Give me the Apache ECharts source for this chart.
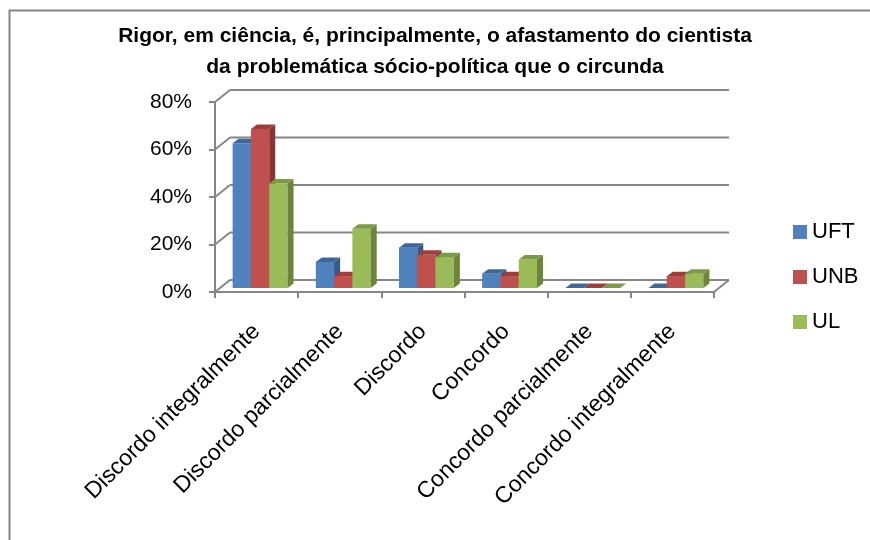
<!DOCTYPE html>
<html>
<head>
<meta charset="utf-8">
<script src="https://cdn.jsdelivr.net/npm/echarts@6/dist/echarts.min.js"></script>
<style>
html, body { margin: 0; padding: 0; background: #fff; }
#chart { width: 870px; height: 540px; }
</style>
</head>
<body>
<div id="chart"></div>
<script>
// data
const categories = ['Discordo integralmente', 'Discordo parcialmente', 'Discordo', 'Concordo', 'Concordo parcialmente', 'Concordo integralmente'];
const seriesNames = ['UFT', 'UNB', 'UL'];
const uft = [61, 11, 17, 6, 0, 0];
const unb = [67, 5, 14, 5, 0, 5];
const ul = [44, 25, 13, 12, 0, 6];
const yTicks = [0, 20, 40, 60, 80];

const palette = [
  { front: '#4F81BD', top: '#3F6898', side: '#365A86' },
  { front: '#C0504D', top: '#9C3E3C', side: '#8A3533' },
  { front: '#9BBB59', top: '#7D9A45', side: '#6C853B' }
];
const gray = '#868686';
// fake 3d depth of the walls and of the bars
const WALL_DX = 15, WALL_DY = -12;
const BAR_SHIFT_X = 3.5, BAR_SHIFT_Y = -4;
const BAR_DX = 6, BAR_DY = -4.5;

const chart = echarts.init(document.getElementById('chart'));

const wallSeries = {
  type: 'custom',
  silent: true,
  clip: false,
  z: 1,
  data: yTicks.map(v => [0, v]),
  renderItem: (params, api) => {
    const cs = params.coordSys;
    const y = api.coord([0, api.value(1)])[1];
    const x0 = cs.x, x1 = cs.x + cs.width;
    const style = { stroke: gray, lineWidth: 2 };
    const children = [
      { type: 'line', shape: { x1: x0, y1: y, x2: x0 + WALL_DX, y2: y + WALL_DY }, style },
      { type: 'line', shape: { x1: x0 + WALL_DX, y1: y + WALL_DY, x2: x1 + WALL_DX, y2: y + WALL_DY }, style }
    ];
    if (api.value(1) === 0) {
      children.push({ type: 'line', shape: { x1: x1, y1: y, x2: x1 + WALL_DX, y2: y + WALL_DY }, style });
    }
    return { type: 'group', children };
  }
};

const barSeries = [uft, unb, ul].map((vals, i) => ({
  name: seriesNames[i],
  type: 'custom',
  clip: false,
  z: 2,
  itemStyle: { color: palette[i].front },
  data: vals.map((v, ci) => [ci, v]),
  renderItem: (params, api) => {
    const ci = api.value(0), v = api.value(1);
    const base = api.coord([ci, 0]);
    const top = api.coord([ci, v]);
    const band = api.size([1, 0])[0];
    const bw = band * 0.22;
    const x = base[0] - 1.5 * bw + i * bw + BAR_SHIFT_X;
    const yb = base[1] + BAR_SHIFT_Y;
    const yt = top[1] + BAR_SHIFT_Y;
    const c = palette[i];
    const children = [];
    if (yb - yt > 0.5) {
      children.push({ type: 'rect', shape: { x: x, y: yt, width: bw, height: yb - yt }, style: { fill: c.front } });
      children.push({ type: 'polygon', shape: { points: [[x + bw, yt], [x + bw + BAR_DX, yt + BAR_DY], [x + bw + BAR_DX, yb + BAR_DY], [x + bw, yb]] }, style: { fill: c.side } });
    }
    children.push({ type: 'polygon', shape: { points: [[x, yt], [x + bw, yt], [x + bw + BAR_DX, yt + BAR_DY], [x + BAR_DX, yt + BAR_DY]] }, style: { fill: c.top } });
    return { type: 'group', children };
  }
}));

const option = {
  animation: false,
  textStyle: { fontFamily: "'Liberation Sans', Arial, sans-serif" },
  title: {
    text: 'Rigor, em ciência, é, principalmente, o afastamento do cientista\nda problemática sócio-política que o circunda',
    left: 'center',
    top: 16,
    textStyle: {
      fontSize: 21,
      fontWeight: 'bold',
      lineHeight: 31,
      color: '#000'
    }
  },
  legend: {
    data: seriesNames,
    orient: 'vertical',
    left: 793,
    top: 221,
    padding: 0,
    icon: 'rect',
    itemWidth: 14,
    itemHeight: 14,
    itemGap: 23,
    textStyle: { fontSize: 22, color: '#000' }
  },
  graphic: [{
    type: 'rect',
    left: 7,
    top: 8,
    silent: true,
    shape: { width: 900, height: 600 },
    style: { fill: 'none', stroke: gray, lineWidth: 2 }
  }],
  grid: { left: 215, top: 102, width: 499, height: 190 },
  xAxis: {
    type: 'category',
    data: categories,
    axisLine: { lineStyle: { color: gray, width: 2 } },
    axisTick: { show: true, length: 6, lineStyle: { color: gray, width: 2 } },
    axisLabel: { rotate: 45, interval: 0, margin: 36, fontSize: 23, color: '#000' }
  },
  yAxis: {
    type: 'value',
    min: 0,
    max: 80,
    interval: 20,
    axisLine: { show: true, lineStyle: { color: gray, width: 2 } },
    axisTick: { show: true, length: 6, lineStyle: { color: gray, width: 2 } },
    splitLine: { show: false },
    axisLabel: { formatter: '{value}%', margin: 23, fontSize: 21, color: '#000' }
  },
  series: [wallSeries].concat(barSeries)
};

chart.setOption(option);
</script>
</body>
</html>
